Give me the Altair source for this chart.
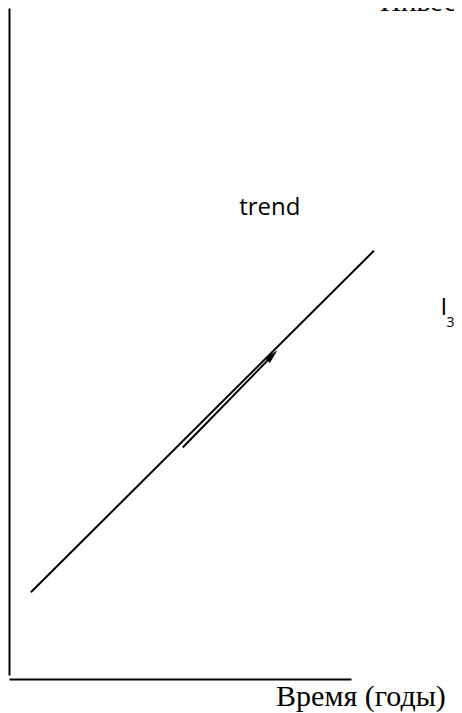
import altair as alt
import pandas as pd

# Trend line (time vs investment, arbitrary units)
trend_x = [0.64, 10.67]
trend_y = [1.24, 6.36]

# Movement arrow along the trend
arrow_x = [5.08, 7.57]
arrow_y = [3.41, 4.72]
head_x = [7.70]
head_y = [4.79]

# Labels
label_text = ["trend", "I", "3", "Время (годы)", "Инвестиции"]
label_x = [6.73, 12.62, 12.79, 7.81, 10.85]
label_y = [6.90, 5.40, 5.22, -0.47, 9.96]
label_font = ["Open Sans", "Open Sans", "Open Sans", "Liberation Serif", "Liberation Serif"]
label_size = [24, 24, 14, 30, 29]

xs = alt.Scale(domain=[0, 10], nice=False, zero=False)
ys = alt.Scale(domain=[0, 10], nice=False, zero=False)

axis_x = alt.Axis(labels=False, ticks=False, title=None, grid=False, domainColor="black",
                  domainWidth=2, offset=4)
axis_y = alt.Axis(labels=False, ticks=False, title=None, grid=False, domainColor="black",
                  domainWidth=2)

X = alt.X("x:Q", scale=xs, axis=axis_x)
Y = alt.Y("y:Q", scale=ys, axis=axis_y)

trend = alt.Chart(pd.DataFrame({"x": trend_x, "y": trend_y})).mark_line(
    color="black", strokeWidth=2).encode(x=X, y=Y)

arrow = alt.Chart(pd.DataFrame({"x": arrow_x, "y": arrow_y})).mark_line(
    color="black", strokeWidth=2).encode(x=X, y=Y)

head = alt.Chart(pd.DataFrame({"x": head_x, "y": head_y})).mark_point(
    shape="M0,-1L0.5,1L-0.5,1Z", filled=True, color="black", opacity=1,
    size=196, angle=45).encode(x=X, y=Y)

labels_df = pd.DataFrame({"t": label_text, "x": label_x, "y": label_y,
                          "f": label_font, "s": label_size})

text_layers = []
for i in range(len(label_text)):
    text_layers.append(
        alt.Chart(labels_df.iloc[[i]]).mark_text(
            align="left", baseline="alphabetic", color="black",
            font=label_font[i], fontSize=label_size[i]).encode(
            x=X, y=Y, text="t:N",
        )
    )

chart = alt.layer(trend, arrow, head, *text_layers).properties(
    width=342, height=667,
    autosize=alt.AutoSizeParams(type="none"),
    padding={"left": 1, "top": 0, "right": 103, "bottom": 38},
).configure_view(stroke=None)

chart.save("out.html", embed_options={"renderer": "svg", "actions": False})
